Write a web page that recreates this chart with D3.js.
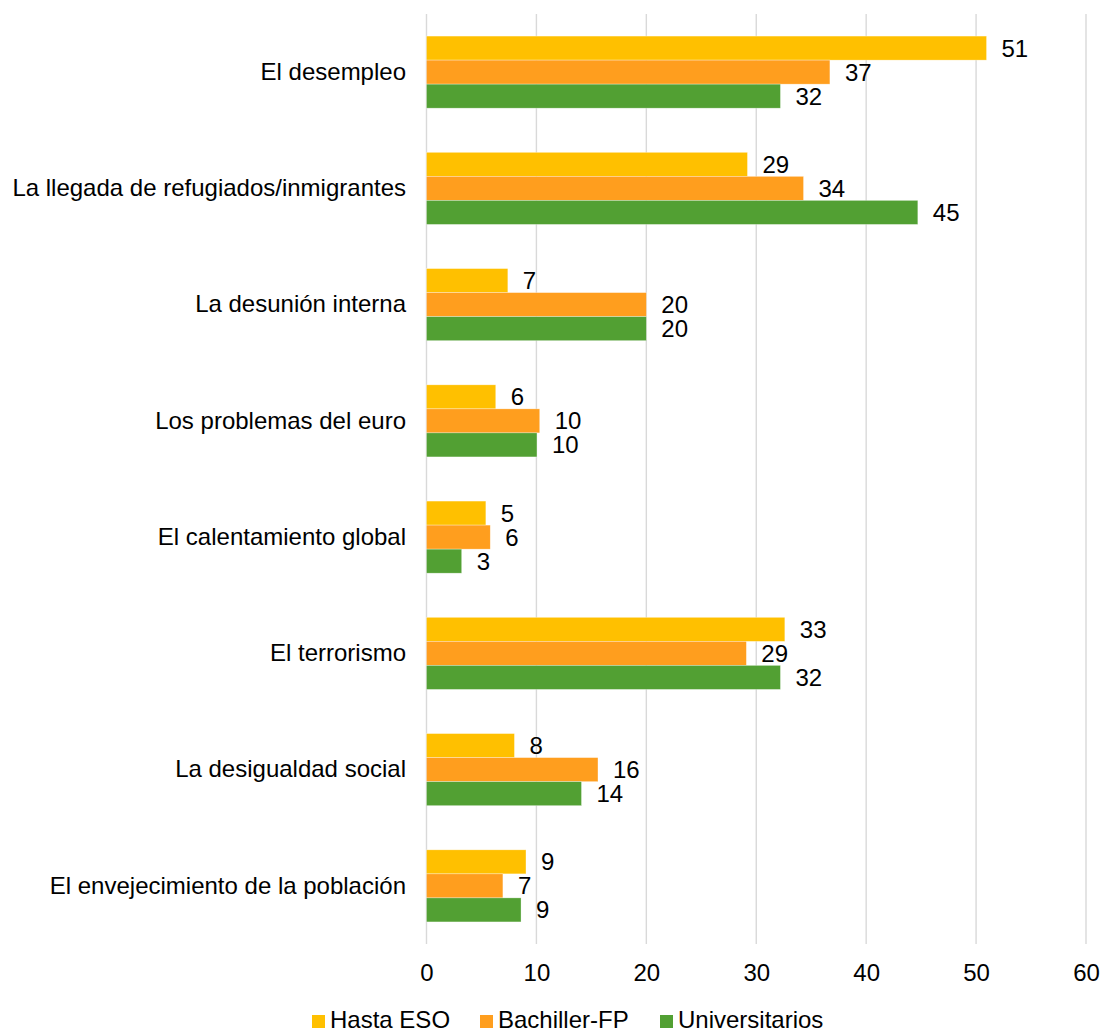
<!DOCTYPE html>
<html>
<head>
<meta charset="utf-8">
<script src="https://cdn.jsdelivr.net/npm/d3@7"></script>
<style>
  html, body { margin: 0; padding: 0; background: #fff; }
  text { font-family: Arial, "Liberation Sans", sans-serif; fill: #000; }
</style>
</head>
<body>
<svg id="chart" width="1104" height="1034"></svg>
<script>
const categories = [
  "El desempleo",
  "La llegada de refugiados/inmigrantes",
  "La desunión interna",
  "Los problemas del euro",
  "El calentamiento global",
  "El terrorismo",
  "La desigualdad social",
  "El envejecimiento de la población"
];
const seriesNames = ["Hasta ESO", "Bachiller-FP", "Universitarios"];
const hastaESO      = [50.95, 29.2, 7.4, 6.3, 5.4, 32.6, 8.0, 9.05];
const bachillerFP   = [36.7, 34.3, 20.0, 10.3, 5.8, 29.1, 15.6, 6.95];
const universitarios = [32.2, 44.7, 20.0, 10.05, 3.2, 32.2, 14.1, 8.6];
const xTicks = [0, 10, 20, 30, 40, 50, 60];
const colors = ["#FFC000", "#FF9E1E", "#52A033"];

const seriesValues = [hastaESO, bachillerFP, universitarios];

const svg = d3.select("#chart");
const plotTop = 14, plotBottom = 944;

const x = d3.scaleLinear().domain([0, 60]).range([426.5, 1086]);
const y0 = d3.scaleBand().domain(categories).range([plotTop, plotBottom])
  .paddingInner(0.38).paddingOuter(0.19);
const y1 = d3.scaleBand().domain(seriesNames).range([0, y0.bandwidth()]);
const color = d3.scaleOrdinal().domain(seriesNames).range(colors);

// gridlines
svg.append("g").selectAll("line").data(xTicks).join("line")
  .attr("x1", d => x(d)).attr("x2", d => x(d))
  .attr("y1", plotTop).attr("y2", plotBottom)
  .attr("stroke", "#d9d9d9").attr("stroke-width", 1.4);

// x axis (labels only)
const xAxis = d3.axisBottom(x).tickValues(xTicks).tickSize(0).tickPadding(0)
  .tickFormat(d3.format("d"));
const gx = svg.append("g").attr("transform", `translate(0, ${plotBottom})`).call(xAxis);
gx.select(".domain").remove();
gx.selectAll("text").attr("y", 37).attr("dy", 0)
  .style("font-size", "24px").style("font-family", "Arial, 'Liberation Sans', sans-serif").attr("fill", "#000");

// category labels
const yAxis = d3.axisLeft(y0).tickSize(0).tickPadding(20.5);
const gy = svg.append("g").attr("transform", `translate(${x(0)},0)`).call(yAxis);
gy.select(".domain").remove();
gy.selectAll("text").style("font-size", "24px")
  .style("font-family", "Arial, 'Liberation Sans', sans-serif").attr("fill", "#000");

// bars
const rows = categories.map((c, i) => ({
  cat: c,
  vals: seriesNames.map((s, j) => ({ series: s, value: seriesValues[j][i] }))
}));

const groups = svg.append("g").selectAll("g").data(rows).join("g")
  .attr("transform", d => `translate(0, ${y0(d.cat)})`);

groups.selectAll("rect").data(d => d.vals).join("rect")
  .attr("x", x(0))
  .attr("y", d => y1(d.series))
  .attr("width", d => x(d.value) - x(0))
  .attr("height", y1.bandwidth())
  .attr("fill", d => color(d.series))
  .attr("stroke", "#ffffff").attr("stroke-opacity", 0.5).attr("stroke-width", 0.6);

groups.selectAll("text.val").data(d => d.vals).join("text")
  .attr("class", "val")
  .attr("x", d => x(d.value) + 15)
  .attr("y", d => y1(d.series) + y1.bandwidth() / 2)
  .attr("dy", "0.35em")
  .style("font-size", "24px")
  .text(d => Math.round(d.value));

// legend
const legendX = [312, 480, 660];
const legend = svg.append("g").selectAll("g").data(seriesNames).join("g")
  .attr("transform", (d, i) => `translate(${legendX[i]}, 0)`);
legend.append("rect").attr("x", 0).attr("y", 1015).attr("width", 13).attr("height", 13)
  .attr("fill", d => color(d));
legend.append("text").attr("x", 18).attr("y", 1028)
  .style("font-size", "24px").text(d => d);
</script>
</body>
</html>
